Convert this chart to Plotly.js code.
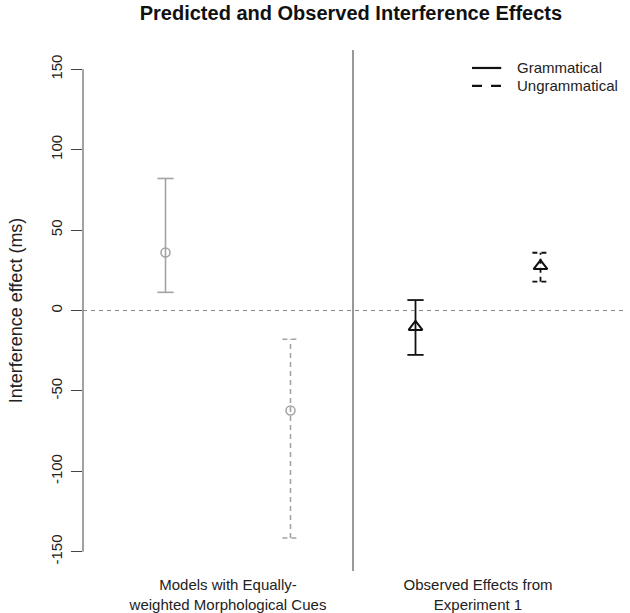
<!DOCTYPE html>
<html>
<head>
<meta charset="utf-8">
<script src="https://cdn.plot.ly/plotly-3.0.1.min.js"></script>
<style>html,body{margin:0;padding:0;background:#fff;}#chart{width:630px;height:613px;}</style>
</head>
<body>
<div id="chart"></div>
<script>
// ---- data ----
const groupLabels = ["Models with Equally-<br>weighted Morphological Cues", "Observed Effects from<br>Experiment 1"];
const conditions = ["Grammatical", "Ungrammatical"];
const modelMean  = [36.1, -62.2];
const modelLower = [11.3, -141.5];
const modelUpper = [82.1, -17.9];
const observedMean  = [-10.2, 27.6];
const observedLower = [-27.6, 17.9];
const observedUpper = [6.5, 35.9];
const yTicks = [-150, -100, -50, 0, 50, 100, 150];

// ---- build traces ----
const groups = [
  {mean: modelMean, lower: modelLower, upper: modelUpper, color: "#a3a3a3", symbol: "circle-open", size: 9, mw: 1.5, lw: 1.6},
  {mean: observedMean, lower: observedLower, upper: observedUpper, color: "#111111", symbol: "triangle-up-open", size: 12, mw: 2, lw: 1.8}
];
const capHalf = 0.065;
const dashes = ["solid", "5px,4px"];
const legendDashes = ["solid", "10px,9px"];
const traces = [];
groups.forEach((g, gi) => {
  conditions.forEach((c, ci) => {
    const x = gi * 2 + ci + 1;
    traces.push({
      x: [x, x, null, x - capHalf, x + capHalf, null, x - capHalf, x + capHalf],
      y: [g.lower[ci], g.upper[ci], null, g.upper[ci], g.upper[ci], null, g.lower[ci], g.lower[ci]],
      mode: "lines", line: {color: g.color, width: g.lw, dash: dashes[ci]},
      showlegend: false, hoverinfo: "skip", name: c
    });
    traces.push({
      x: [x], y: [g.mean[ci]], mode: "markers",
      marker: {symbol: g.symbol, size: g.size, color: g.color, line: {color: g.color, width: g.mw}},
      showlegend: false, name: c
    });
  });
});

// ---- legend (drawn as key lines + labels) ----
const legendShapes = [];
const legendAnnots = [];
const legTop = 0.9655, legStep = 0.0345;
conditions.forEach((c, ci) => {
  const yy = legTop - ci * legStep;
  legendShapes.push({type: "line", xref: "paper", yref: "paper", x0: 0.7204, x1: 0.7745, y0: yy, y1: yy,
    line: {color: "#111", width: 2.2, dash: legendDashes[ci]}});
  legendAnnots.push({xref: "paper", yref: "paper", x: 0.80, y: yy, xanchor: "left", yanchor: "middle",
    text: c, showarrow: false, font: {size: 15, color: "#222"}});
});

const layout = {
  width: 630, height: 613,
  margin: {l: 83, r: 7, t: 50, b: 42},
  paper_bgcolor: "#fff", plot_bgcolor: "#fff",
  font: {family: "Liberation Sans, Arial, sans-serif", color: "#222", size: 15},
  title: {text: "<b>Predicted and Observed Interference Effects</b>", x: 0.557, xanchor: "center", y: 0.979, yanchor: "middle",
    font: {size: 20, color: "#111"}},
  xaxis: {range: [0.34, 4.66], showgrid: false, zeroline: false, showline: false,
    tickmode: "array", tickvals: [1.5, 3.5], ticktext: groupLabels, ticks: "",
    tickfont: {size: 15, color: "#222"}, ticklabelstandoff: 3},
  yaxis: {range: [-162, 162], showgrid: false, zeroline: false, showline: false,
    tickmode: "array", tickvals: yTicks, ticktext: yTicks.map(String), ticks: "outside", ticklen: 11,
    tickcolor: "#444", tickwidth: 1, tickangle: -90, tickfont: {size: 15, color: "#222"}, ticklabelstandoff: 3,
    title: {text: "Interference effect (ms)", font: {size: 18, color: "#222"}, standoff: 20}},
  showlegend: false,
  annotations: legendAnnots,
  shapes: [
    {type: "line", xref: "paper", yref: "y", x0: 0, x1: 0, y0: Math.min(...yTicks), y1: Math.max(...yTicks), line: {color: "#444", width: 1}},
    {type: "line", xref: "paper", yref: "y", x0: 0, x1: 1, y0: 0, y1: 0, line: {color: "#8a8a8a", width: 1.2, dash: "4px,4px"}},
    {type: "line", xref: "x", yref: "paper", x0: 2.5, x1: 2.5, y0: 0, y1: 1, line: {color: "#555", width: 1.2}}
  ].concat(legendShapes)
};
Plotly.newPlot("chart", traces, layout, {displayModeBar: false, staticPlot: true});
</script>
</body>
</html>
